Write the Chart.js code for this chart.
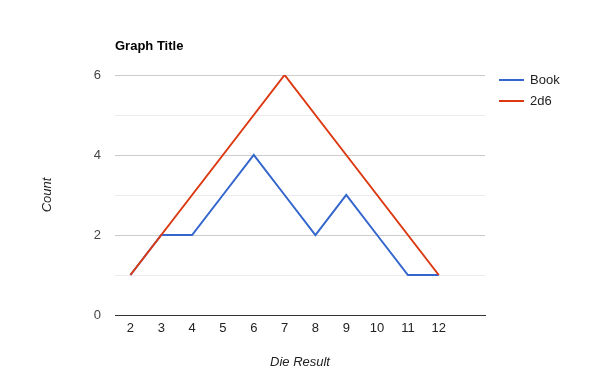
<!DOCTYPE html>
<html>
<head>
<meta charset="utf-8">
<script src="https://cdn.jsdelivr.net/npm/chart.js@4"></script>
<style>
  html, body { margin: 0; padding: 0; background: #fff; }
  #chartWrap { width: 600px; height: 390px; }
</style>
</head>
<body>
<div id="chartWrap"><canvas id="dieChart" width="600" height="390"></canvas></div>
<script>
// data
const dieResults = ['2', '3', '4', '5', '6', '7', '8', '9', '10', '11', '12', ''];
const bookCounts = [1, 2, 2, 3, 4, 3, 2, 3, 2, 1, 1, null];
const twoD6Counts = [1, 2, 3, 4, 5, 6, 5, 4, 3, 2, 1, null];
const seriesNames = ['Book', '2d6'];
const yTicks = [0, 2, 4, 6];

const FONT = '"Liberation Sans", Arial, sans-serif';

// title + legend drawn on the canvas
const titleLegendPlugin = {
    id: 'titleLegend',
    afterDraw(chart){
        const ctx = chart.ctx;
        ctx.save();
        ctx.fillStyle = '#000';
        ctx.font = 'bold 13px ' + FONT;
        ctx.textBaseline = 'middle';
        ctx.textAlign = 'left';
        ctx.fillText('Graph Title', chart.chartArea.left, 46);

        chart.data.datasets.forEach((ds, i) => {
            const y = 80 + i * 21;
            ctx.strokeStyle = ds.borderColor;
            ctx.lineWidth = 2;
            ctx.beginPath();
            ctx.moveTo(499, y);
            ctx.lineTo(524, y);
            ctx.stroke();
            ctx.fillStyle = '#222';
            ctx.font = '13px ' + FONT;
            ctx.fillText(ds.label, 530, y);
        });
        ctx.restore();
    }
};

const ctx = document.getElementById('dieChart').getContext('2d');
new Chart(ctx, {
    type: 'line',
    data: {
        labels: dieResults,
        datasets: [
            // red series sits on top of blue in the reference
            {label: seriesNames[0], data: bookCounts, borderColor: '#3366cc', backgroundColor: '#3366cc', borderWidth: 2, pointRadius: 0, tension: 0, order: 2},
            {label: seriesNames[1], data: twoD6Counts, borderColor: '#dc3912', backgroundColor: '#dc3912', borderWidth: 2, pointRadius: 0, tension: 0, order: 1}
        ]
    },
    options: {
        responsive: false,
        animation: false,
        layout: {padding: {top: 75, right: 115, left: 0, bottom: 0}},
        plugins: {legend: {display: false}, title: {display: false}, tooltip: {enabled: false}},
        scales: {
            x: {
                offset: true,
                grid: {display: false, drawTicks: false},
                border: {display: true, color: '#333', width: 1},
                ticks: {color: '#222', font: {family: FONT, size: 13}, padding: 6, autoSkip: false, maxRotation: 0},
                title: {display: true, text: 'Die Result', color: '#222', font: {family: FONT, size: 13, style: 'italic'}, padding: {top: 0, bottom: 20}},
                afterFit(scale){ scale.height = 75; }
            },
            y: {
                min: 0,
                max: 6,
                grid: {
                    drawTicks: false,
                    color: c => c.tick.value === 0 ? '#333' : (yTicks.includes(c.tick.value) ? '#cccccc' : '#ebebeb')
                },
                border: {display: false},
                ticks: {
                    stepSize: 1,
                    color: '#444',
                    font: {family: FONT, size: 13},
                    padding: 14,
                    callback: v => yTicks.includes(v) ? String(v) : ''
                },
                title: {display: true, text: 'Count', color: '#222', font: {family: FONT, size: 13, style: 'italic'}, padding: {top: 40, bottom: 0}},
                afterFit(scale){ scale.width = 115; }
            }
        }
    },
    plugins: [titleLegendPlugin]
});
</script>
</body>
</html>
